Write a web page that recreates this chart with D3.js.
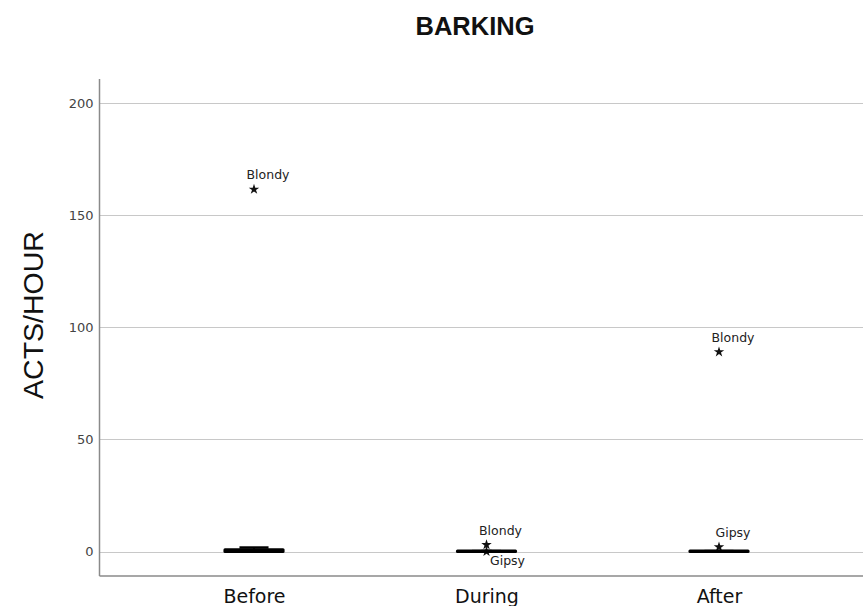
<!DOCTYPE html>
<html>
<head>
<meta charset="utf-8">
<script src="https://cdn.jsdelivr.net/npm/d3@7"></script>
<style>
  html, body { margin: 0; padding: 0; background: #fff; }
  svg { display: block; }
</style>
</head>
<body>
<script>
// ---- data ----
const title = "BARKING";
const yLabel = "ACTS/HOUR";
const categories = ["Before", "During", "After"];
const whiskerLow = [0, 0, 0];
const q1 = [0, 0, 0];
const median = [0.3, 0, 0];
const q3 = [0.8, 0.2, 0.2];
const whiskerHigh = [1.8, 0.2, 0.2];
const outlierCat = ["Before", "During", "During", "After", "After"];
const outlierVal = [161.5, 3, 0, 89, 2];
const outlierName = ["Blondy", "Blondy", "Gipsy", "Blondy", "Gipsy"];
const yTicks = [0, 50, 100, 150, 200];

// ---- layout ----
const W = 863, H = 606;
const axisX = 99.5, plotRight = 863, plotTop = 79, plotBottom = 576;

const svg = d3.select("body").append("svg").attr("width", W).attr("height", H);

const y = d3.scaleLinear().domain([-10.9, 210.7]).range([plotBottom, plotTop]);
const x = d3.scalePoint().domain(categories).range([254, 719]);
const step = x.step();
const boxW = step * 0.25;

// gridlines
svg.append("g").selectAll("line").data(yTicks).join("line")
  .attr("x1", axisX).attr("x2", plotRight)
  .attr("y1", d => Math.round(y(d)) + 0.5).attr("y2", d => Math.round(y(d)) + 0.5)
  .attr("stroke", "#c8c8c8").attr("stroke-width", 1.2);

// y axis
const yAxis = d3.axisLeft(y).tickValues(yTicks).tickSize(0).tickPadding(6);
const gy = svg.append("g").attr("transform", `translate(${axisX},0)`).call(yAxis);
gy.select(".domain").remove();
gy.selectAll("text").attr("font-family", "DejaVu Sans").attr("font-size", 13).attr("fill", "#444");

// axis lines
svg.append("line").attr("x1", axisX).attr("x2", axisX).attr("y1", plotTop).attr("y2", plotBottom)
  .attr("stroke", "#8a8a8a").attr("stroke-width", 1.5);
svg.append("line").attr("x1", axisX).attr("x2", plotRight).attr("y1", plotBottom).attr("y2", plotBottom)
  .attr("stroke", "#8a8a8a").attr("stroke-width", 1.5);

// x axis labels
const xAxis = d3.axisBottom(x).tickSize(0).tickPadding(0);
const gx = svg.append("g").attr("transform", `translate(0,${plotBottom})`).call(xAxis);
gx.select(".domain").remove();
gx.selectAll("text").attr("font-family", "DejaVu Sans").attr("font-size", 19).attr("fill", "#111")
  .attr("dy", null).attr("y", 27);

// outliers (drawn beneath boxes)
const outliers = outlierVal.map((v, i) => ({c: outlierCat[i], v, name: outlierName[i]}));
outliers.forEach(o => {
  const higher = outliers.filter(p => p.c === o.c && p.v > o.v);
  o.below = higher.some(p => p.v - o.v < 5);
});
const star = d3.symbol().type(d3.symbolStar).size(34);
const go = svg.append("g");
outliers.forEach(o => {
  const cx = x(o.c), cy = y(o.v);
  go.append("path").attr("d", star).attr("transform", `translate(${cx},${cy})`).attr("fill", "#111");
  go.append("text")
    .attr("x", o.below ? cx + 21 : cx + 14)
    .attr("y", o.below ? cy + 13 : cy - 10)
    .attr("text-anchor", "middle")
    .attr("font-family", "DejaVu Sans").attr("font-size", 12.5).attr("fill", "#222")
    .text(o.name);
});

// boxes
const boxes = categories.map((c, i) => ({c, lo: whiskerLow[i], q1: q1[i], med: median[i], q3: q3[i], hi: whiskerHigh[i]}));
const gb = svg.append("g");
boxes.forEach(b => {
  const cx = x(b.c);
  gb.append("line").attr("x1", cx).attr("x2", cx).attr("y1", y(b.hi)).attr("y2", y(b.lo))
    .attr("stroke", "#000").attr("stroke-width", 2);
  [b.hi, b.lo].forEach(v => gb.append("line")
    .attr("x1", cx - boxW / 4).attr("x2", cx + boxW / 4).attr("y1", y(v)).attr("y2", y(v))
    .attr("stroke", "#000").attr("stroke-width", 2.5));
  const x0 = cx - boxW / 2, x1 = cx + boxW / 2;
  gb.append("path")
    .attr("d", `M${x0},${y(b.q3)}H${x1}V${y(b.q1)}H${x0}Z`)
    .attr("fill", "#000").attr("stroke", "#000").attr("stroke-width", 3).attr("stroke-linejoin", "round")
    .attr("stroke-linecap", "round");
  gb.append("line").attr("x1", x0).attr("x2", x1).attr("y1", y(b.med)).attr("y2", y(b.med))
    .attr("stroke", "#000").attr("stroke-width", 2.5);
});

// title
svg.append("text").attr("x", 475).attr("y", 35).attr("text-anchor", "middle")
  .attr("font-family", "Liberation Sans, Arial, sans-serif").attr("font-weight", "bold")
  .attr("font-size", 25.5).attr("fill", "#111").text(title);

// y label
svg.append("text").attr("transform", "translate(43,315) rotate(-90)").attr("text-anchor", "middle")
  .attr("font-family", "Liberation Sans, Arial, sans-serif")
  .attr("font-size", 28.5).attr("fill", "#111").text(yLabel);
</script>
</body>
</html>
